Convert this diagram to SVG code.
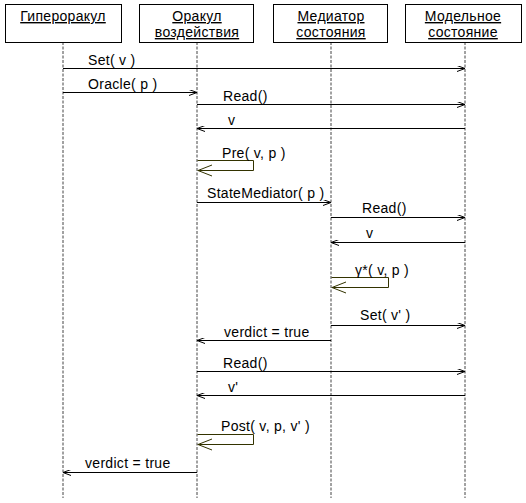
<svg xmlns="http://www.w3.org/2000/svg" width="526" height="503" viewBox="0 0 526 503">
<style>
text{font-family:"Liberation Sans",Arial,sans-serif;font-size:14px;letter-spacing:0.3px;fill:#000}
.h{text-anchor:middle;text-decoration:underline}
.box{fill:#fff;stroke:#000;stroke-width:1}
.life{stroke:#444;stroke-width:1;stroke-dasharray:3,1.5}
.msg{stroke:#000;stroke-width:1;fill:none}
.self{stroke:#333300;stroke-width:1;fill:none}
</style>
<defs>
<marker id="a" viewBox="0 0 8 6" refX="8" refY="3" markerWidth="8" markerHeight="6" orient="auto" markerUnits="userSpaceOnUse">
<path d="M0,0 L8,3 L0,6" fill="none" stroke="#000" stroke-width="1"/>
</marker>
</defs>
<g id="lifelines">
<line class="life" x1="63" y1="42" x2="63" y2="498"/>
<line class="life" x1="197" y1="42" x2="197" y2="498"/>
<line class="life" x1="331" y1="42" x2="331" y2="498"/>
<line class="life" x1="465" y1="42" x2="465" y2="498"/>
</g>
<g id="n1"><rect class="box" x="5.5" y="4.5" width="116" height="38"/><text class="h" x="63" y="21">Гипероракул</text></g>
<g id="n2"><rect class="box" x="139.5" y="4.5" width="114" height="38"/><text class="h" x="197" y="21">Оракул</text><text class="h" x="197" y="37">воздействия</text></g>
<g id="n3"><rect class="box" x="273.5" y="4.5" width="114" height="38"/><text class="h" x="331" y="21">Медиатор</text><text class="h" x="331" y="37">состояния</text></g>
<g id="n4"><rect class="box" x="405.5" y="4.5" width="116" height="38"/><text class="h" x="463" y="21">Модельное</text><text class="h" x="463" y="37">состояние</text></g>
<g id="connectors">
<line class="msg" x1="63" y1="68.5" x2="465" y2="68.5" marker-end="url(#a)"/>
<line class="msg" x1="63" y1="92.5" x2="197" y2="92.5" marker-end="url(#a)"/>
<line class="msg" x1="197" y1="104.5" x2="465" y2="104.5" marker-end="url(#a)"/>
<line class="msg" x1="465" y1="128.5" x2="197" y2="128.5" marker-end="url(#a)"/>
<polyline class="self" points="197.5,160.5 253.5,160.5 253.5,170.5 197.5,170.5"/>
<polyline class="self" points="212,165 198,170.5 212,176"/>
<line class="msg" x1="197" y1="202.5" x2="331" y2="202.5" marker-end="url(#a)"/>
<line class="msg" x1="331" y1="217.5" x2="465" y2="217.5" marker-end="url(#a)"/>
<line class="msg" x1="465" y1="242.5" x2="331" y2="242.5" marker-end="url(#a)"/>
<polyline class="self" points="331.5,277.5 388.5,277.5 388.5,287.5 331.5,287.5"/>
<polyline class="self" points="346,282 332,287.5 346,293"/>
<line class="msg" x1="331" y1="325.5" x2="465" y2="325.5" marker-end="url(#a)"/>
<line class="msg" x1="331" y1="340.5" x2="197" y2="340.5" marker-end="url(#a)"/>
<line class="msg" x1="197" y1="371.5" x2="465" y2="371.5" marker-end="url(#a)"/>
<line class="msg" x1="465" y1="395.5" x2="197" y2="395.5" marker-end="url(#a)"/>
<polyline class="self" points="197.5,434.5 253.5,434.5 253.5,444.5 197.5,444.5"/>
<polyline class="self" points="212,439 198,444.5 212,450"/>
<line class="msg" x1="197" y1="472.5" x2="63" y2="472.5" marker-end="url(#a)"/>
</g>
<g id="labels">
<text x="88" y="65">Set( v )</text>
<text x="88" y="89">Oracle( p )</text>
<text x="223" y="101">Read()</text>
<text x="228" y="125">v</text>
<text x="222" y="158">Pre( v, p )</text>
<text x="207" y="198">StateMediator( p )</text>
<text x="362" y="213">Read()</text>
<text x="366" y="238">v</text>
<text x="355" y="275">γ*( v, p )</text>
<text x="360" y="320">Set( v' )</text>
<text x="224" y="337">verdict = true</text>
<text x="223" y="368">Read()</text>
<text x="228" y="392">v'</text>
<text x="221" y="431">Post( v, p, v' )</text>
<text x="85" y="468">verdict = true</text>
</g>
</svg>
